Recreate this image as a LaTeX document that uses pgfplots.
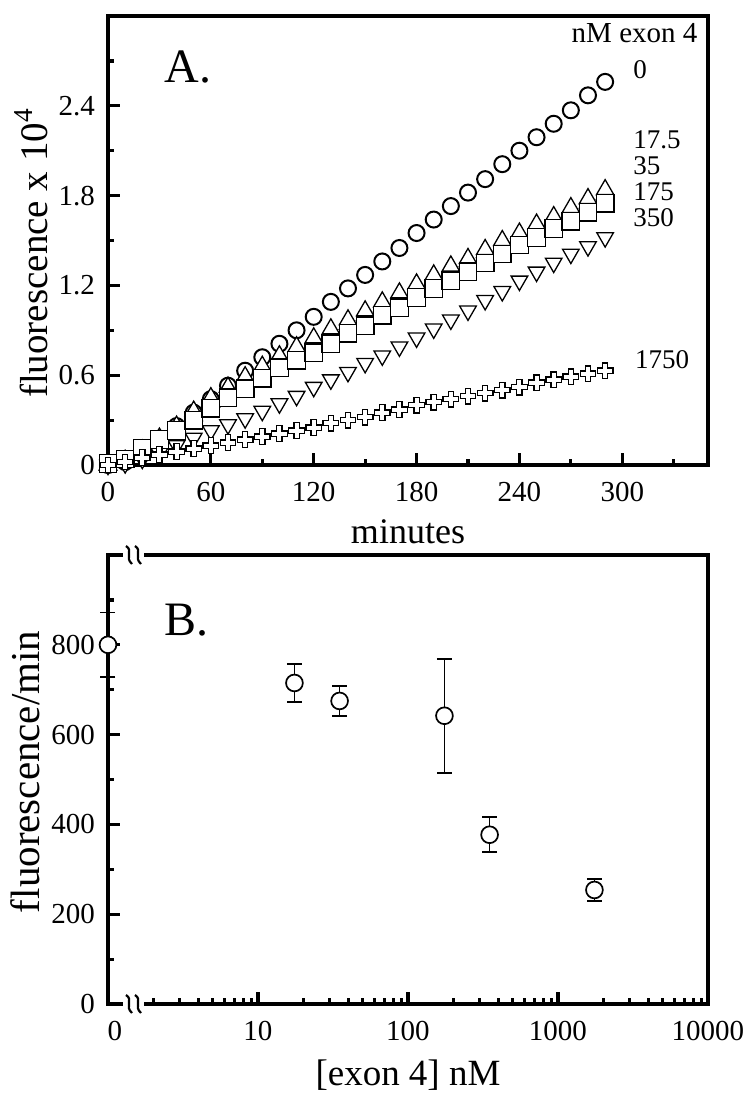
\documentclass[border=0pt]{standalone}
\usepackage{fontspec}
\setmainfont{Liberation Serif}
\usepackage{pgfplots}
\pgfplotsset{compat=1.18}
\usepackage{pgfplotstable}

% outlined plus sign, filled
\pgfdeclareplotmark{ocross}{%
  \pgfpathmoveto{\pgfpoint{-0.34\pgfplotmarksize}{\pgfplotmarksize}}%
  \pgfpathlineto{\pgfpoint{0.34\pgfplotmarksize}{\pgfplotmarksize}}%
  \pgfpathlineto{\pgfpoint{0.34\pgfplotmarksize}{0.34\pgfplotmarksize}}%
  \pgfpathlineto{\pgfpoint{\pgfplotmarksize}{0.34\pgfplotmarksize}}%
  \pgfpathlineto{\pgfpoint{\pgfplotmarksize}{-0.34\pgfplotmarksize}}%
  \pgfpathlineto{\pgfpoint{0.34\pgfplotmarksize}{-0.34\pgfplotmarksize}}%
  \pgfpathlineto{\pgfpoint{0.34\pgfplotmarksize}{-\pgfplotmarksize}}%
  \pgfpathlineto{\pgfpoint{-0.34\pgfplotmarksize}{-\pgfplotmarksize}}%
  \pgfpathlineto{\pgfpoint{-0.34\pgfplotmarksize}{-0.34\pgfplotmarksize}}%
  \pgfpathlineto{\pgfpoint{-\pgfplotmarksize}{-0.34\pgfplotmarksize}}%
  \pgfpathlineto{\pgfpoint{-\pgfplotmarksize}{0.34\pgfplotmarksize}}%
  \pgfpathlineto{\pgfpoint{-0.34\pgfplotmarksize}{0.34\pgfplotmarksize}}%
  \pgfpathclose
  \pgfusepathqfillstroke}

% fluorescence (x 10^4) vs minutes, one column per exon 4 concentration
\pgfplotstableread{
t    c0    c17   c35   c175  c350  c1750
0    0.00  0.00  0.00  0.01  0.00  0.00
10   0.02  0.03  0.03  0.04  0.01  0.02
20   0.08  0.10  0.09  0.11  0.04  0.05
30   0.17  0.18  0.17  0.17  0.08  0.07
40   0.26  0.26  0.24  0.23  0.13  0.09
50   0.35  0.36  0.33  0.30  0.18  0.11
60   0.44  0.45  0.42  0.38  0.23  0.13
70   0.53  0.52  0.49  0.45  0.27  0.15
80   0.63  0.59  0.56  0.51  0.31  0.17
90   0.72  0.66  0.63  0.58  0.36  0.19
100  0.81  0.73  0.70  0.65  0.41  0.21
110  0.90  0.79  0.76  0.70  0.46  0.23
120  0.99  0.85  0.82  0.75  0.52  0.25
130  1.09  0.91  0.88  0.81  0.57  0.28
140  1.18  0.97  0.94  0.88  0.62  0.30
150  1.27  1.03  1.00  0.93  0.68  0.32
160  1.36  1.09  1.06  1.00  0.73  0.35
170  1.45  1.15  1.12  1.05  0.79  0.37
180  1.55  1.21  1.18  1.12  0.85  0.40
190  1.64  1.27  1.24  1.18  0.91  0.42
200  1.73  1.33  1.30  1.23  0.97  0.44
210  1.82  1.38  1.36  1.29  1.03  0.46
220  1.91  1.44  1.42  1.35  1.10  0.48
230  2.01  1.50  1.47  1.41  1.16  0.50
240  2.10  1.55  1.53  1.47  1.23  0.52
250  2.19  1.61  1.58  1.52  1.29  0.55
260  2.28  1.66  1.64  1.58  1.35  0.57
270  2.37  1.72  1.70  1.63  1.41  0.59
280  2.47  1.78  1.75  1.69  1.46  0.61
290  2.56  1.84  1.81  1.75  1.52  0.63
}\kinetics

% rate vs [exon 4]; 0 nM is put at the break (x = 1)
\pgfplotstableread{
x     y    err
1     800  72
17.5  715  43
35    675  33
175   642  127
350   377  39
1750  254  24
}\rates

\pgfplotsset{
  panel/.style={
    width=300pt, height=224.5pt, scale only axis,
    clip=false,
    axis line style={line width=2.2pt},
    tick align=inside, xtick pos=left, ytick pos=left,
    major tick length=6pt, minor tick length=3pt,
    every tick/.append style={line width=1.6pt, black},
    tick label style={font=\fontsize{14.5}{14.5}\selectfont},
    /pgf/number format/assume math mode=true,
    xticklabel style={yshift=-5pt},
    yticklabel style={xshift=-3pt},
    label style={font=\fontsize{18}{18}\selectfont},
  },
  pts/.style={only marks, black,
    mark options={fill=white, draw=black, line width=0.65pt, #1}},
  pts/.default={},
}

\begin{document}
\begin{tikzpicture}
\useasboundingbox (-54pt,-317pt) rectangle (320.5pt,232.5pt);

\begin{axis}[panel, at={(0,0)}, anchor=south west,
  xmin=0, xmax=350, ymin=0, ymax=3.0,
  xtick={0,60,120,180,240,300}, minor xtick={30,90,150,210,270,330},
  ytick={0,0.6,1.2,1.8,2.4}, minor ytick={0.3,0.9,1.5,2.1,2.7},
  xlabel={minutes},
  ylabel={fluorescence x 10\textsuperscript{4}},
  xlabel style={at={(axis description cs:0.5,-0.149)}, anchor=center},
  ylabel style={at={(axis description cs:-0.128,0.472)}, anchor=center,
    font=\fontsize{19.5}{19.5}\selectfont},
]
\addplot[pts={line width=1pt}, mark=*, mark size=4pt] table[x=t, y=c0] {\kinetics};
\addplot[pts={rotate=180}, mark=triangle*, mark size=4.8pt] table[x=t, y=c350] {\kinetics};
\addplot[pts, mark=triangle*, mark size=5pt] table[x=t, y=c35] {\kinetics};
\addplot[pts, mark=triangle*, mark size=5pt] table[x=t, y=c17] {\kinetics};
\addplot[pts, mark=square*, mark size=4.4pt] table[x=t, y=c175] {\kinetics};
\addplot[pts, mark=ocross, mark size=3.9pt] table[x=t, y=c1750] {\kinetics};

\node[anchor=west, font=\fontsize{24}{24}\selectfont] at (rel axis cs:0.083,0.886) {A.};
\node[anchor=east, inner sep=0pt, font=\fontsize{14.5}{14.5}\selectfont] at (rel axis cs:0.983,0.962) {nM exon 4};
\begin{scope}[every node/.style={font=\fontsize{13.5}{13.5}\selectfont, inner sep=0pt}]
\node[anchor=center] at (rel axis cs:0.887,0.880) {0};
\node[anchor=west] at (rel axis cs:0.875,0.725) {17.5};
\node[anchor=west] at (rel axis cs:0.875,0.667) {35};
\node[anchor=west] at (rel axis cs:0.875,0.609) {175};
\node[anchor=west] at (rel axis cs:0.875,0.551) {350};
\node[anchor=west] at (rel axis cs:0.878,0.234) {1750};
\end{scope}
\end{axis}

\begin{axis}[panel, at={(0,-269.5pt)}, anchor=south west,
  xmode=log, xmin=1, xmax=10000, ymin=0, ymax=1000,
  xtick={1,10,100,1000,10000},
  xticklabels={\hspace*{7pt}0,10,100,1000,10000},
  ytick={0,200,400,600,800}, minor ytick={100,300,500,700,900},
  xlabel={[exon 4] nM},
  ylabel={fluorescence/min},
  xlabel style={at={(axis description cs:0.5,-0.158)}, anchor=center,
    font=\fontsize{18.5}{18.5}\selectfont},
  ylabel style={at={(axis description cs:-0.138,0.517)}, anchor=center,
    font=\fontsize{20.5}{20.5}\selectfont},
]
\addplot[only marks, black, mark=none,
  error bars/.cd, y dir=both, y explicit,
  error bar style={line width=0.85pt},
  error mark options={rotate=90, line width=0.85pt, mark size=3.75pt}]
  table[x=x, y=y, y error=err] {\rates};
\addplot[pts={line width=0.85pt}, mark=*, mark size=4.2pt] table[x=x, y=y] {\rates};
\node[anchor=west, font=\fontsize{24}{24}\selectfont] at (rel axis cs:0.082,0.855) {B.};
\end{axis}

% axis break on the x axis of panel B
\fill[white] (7.5pt,-273pt) rectangle (18pt,-266pt);
\fill[white] (7.5pt,-48.5pt) rectangle (18pt,-41.5pt);
\foreach \yb in {-269.5pt,-45pt}{
  \foreach \xb in {10.5pt,15pt}{
    \draw[line width=1.1pt] (\xb-1.5pt,\yb+4.5pt) .. controls (\xb+2.4pt,\yb+2pt) and (\xb-2.4pt,\yb-1pt) .. (\xb+1.5pt,\yb-4.5pt);
  }
}
\end{tikzpicture}
\end{document}
